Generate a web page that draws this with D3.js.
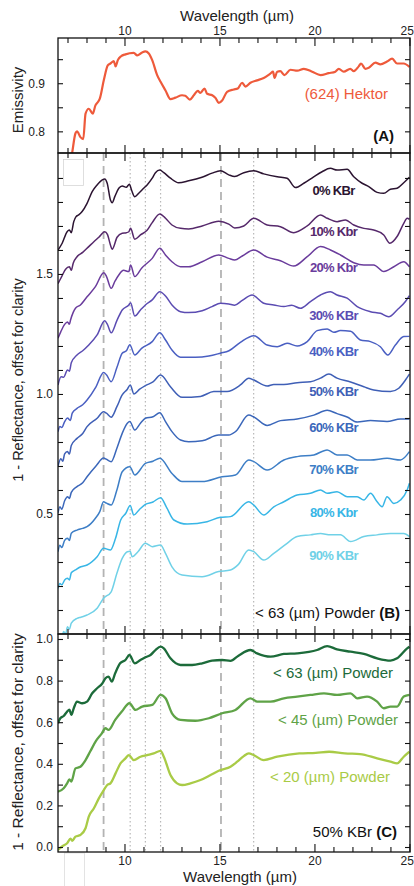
<!DOCTYPE html>
<html>
<head>
<meta charset="utf-8">
<script src="https://cdn.jsdelivr.net/npm/d3@7/dist/d3.min.js"></script>
<style>
  html, body { margin: 0; padding: 0; background: #fff; }
  svg text { font-family: "Liberation Sans", Arial, Helvetica, sans-serif; }
</style>
</head>
<body>
<svg id="chart" width="414" height="886"></svg>
<script>
// ---- data: [wavelength (µm), value] ----
const hektor = [[7.0,0.70],[7.24,0.754],[7.42,0.796],[7.5,0.80],[7.68,0.788],[7.83,0.784],[7.95,0.837],[8.12,0.847],[8.33,0.837],[8.47,0.854],[8.6,0.861],[8.7,0.868],[8.91,0.906],[9.12,0.937],[9.26,0.941],[9.44,0.946],[9.53,0.935],[9.65,0.948],[9.82,0.956],[10.05,0.960],[10.49,0.963],[10.67,0.958],[10.93,0.964],[11.1,0.966],[11.28,0.962],[11.46,0.948],[11.72,0.917],[11.9,0.903],[12.16,0.885],[12.42,0.867],[12.68,0.870],[13.03,0.875],[13.2,0.874],[13.44,0.866],[13.65,0.875],[13.86,0.884],[14.0,0.880],[14.21,0.889],[14.35,0.878],[14.62,0.875],[14.8,0.869],[14.96,0.859],[15.14,0.864],[15.4,0.882],[15.75,0.887],[15.96,0.889],[16.19,0.901],[16.37,0.893],[16.63,0.901],[16.98,0.906],[17.33,0.911],[17.68,0.92],[17.82,0.924],[17.9,0.911],[18.04,0.924],[18.2,0.925],[18.42,0.917],[18.74,0.928],[19.1,0.926],[19.44,0.93],[19.88,0.924],[20.32,0.917],[20.75,0.921],[21.1,0.924],[21.28,0.930],[21.54,0.924],[21.89,0.930],[22.07,0.925],[22.33,0.935],[22.45,0.941],[22.68,0.930],[22.86,0.932],[23.21,0.943],[23.47,0.939],[23.82,0.945],[24.09,0.951],[24.35,0.941],[24.7,0.941],[25.0,0.934]];

const kbr0 = [[6.5,1.60],[6.72,1.628],[6.98,1.676],[7.1,1.683],[7.2,1.672],[7.33,1.718],[7.45,1.739],[7.59,1.746],[7.77,1.76],[8.03,1.794],[8.3,1.843],[8.56,1.871],[8.83,1.892],[8.96,1.896],[9.09,1.878],[9.26,1.808],[9.35,1.797],[9.49,1.822],[9.7,1.857],[9.88,1.867],[10.09,1.861],[10.26,1.874],[10.37,1.85],[10.54,1.822],[10.75,1.836],[11.01,1.857],[11.19,1.871],[11.46,1.899],[11.63,1.922],[11.86,1.933],[12.07,1.922],[12.42,1.899],[12.85,1.88],[13.38,1.888],[14.08,1.903],[14.61,1.92],[15.05,1.93],[15.49,1.913],[15.8,1.906],[16.28,1.922],[16.8,1.93],[17.33,1.917],[18.04,1.905],[18.56,1.899],[19.0,1.86],[19.44,1.878],[19.96,1.905],[20.4,1.926],[20.84,1.94],[21.19,1.933],[21.72,1.936],[22.07,1.905],[22.51,1.878],[22.86,1.864],[23.3,1.84],[23.65,1.836],[24.0,1.853],[24.35,1.857],[24.7,1.88],[25.0,1.903]];
const kbr10 = [[6.5,1.46],[6.7,1.49],[6.9,1.52],[7.1,1.53],[7.2,1.515],[7.3,1.545],[7.5,1.572],[7.8,1.59],[8.12,1.614],[8.4,1.635],[8.65,1.653],[8.96,1.676],[9.1,1.665],[9.26,1.621],[9.35,1.603],[9.61,1.653],[9.88,1.67],[10.1,1.672],[10.23,1.676],[10.32,1.69],[10.54,1.645],[10.84,1.6625],[11.2,1.683],[11.46,1.714],[11.86,1.75],[12.16,1.732],[12.5,1.704],[12.95,1.69],[13.38,1.6875],[14.09,1.70],[14.96,1.72],[15.49,1.708],[15.8,1.692],[16.28,1.70],[16.81,1.732],[17.51,1.704],[18.21,1.697],[18.91,1.672],[19.62,1.70],[20.32,1.746],[20.67,1.732],[21.19,1.718],[21.63,1.725],[22.07,1.704],[22.6,1.69],[23.12,1.683],[23.65,1.6625],[23.97,1.628],[24.35,1.656],[24.7,1.711],[24.88,1.732],[25.0,1.728]];
const kbr20 = [[6.5,1.232],[6.65,1.26],[6.85,1.29],[7.0,1.30],[7.1,1.29],[7.16,1.308],[7.3,1.34],[7.42,1.357],[7.68,1.371],[8.03,1.405],[8.47,1.447],[8.91,1.505],[9.05,1.49],[9.3,1.44],[9.5,1.47],[9.7,1.496],[9.95,1.515],[10.23,1.51],[10.32,1.5375],[10.54,1.489],[10.9,1.524],[11.46,1.565],[11.86,1.607],[12.16,1.579],[12.5,1.551],[12.95,1.53],[13.38,1.53],[14.09,1.551],[14.96,1.579],[15.49,1.565],[15.8,1.558],[16.2,1.575],[16.81,1.6],[17.51,1.57],[18.21,1.555],[18.91,1.533],[19.62,1.572],[20.32,1.614],[20.84,1.60],[21.37,1.579],[22.07,1.547],[22.6,1.5375],[23.12,1.5375],[23.65,1.51],[24.18,1.53],[24.7,1.551],[25.0,1.53]];
const kbr30 = [[6.5,1.0375],[6.66,1.072],[6.8,1.07],[7.0,1.10],[7.1,1.095],[7.2,1.13],[7.5,1.1625],[7.8,1.18],[8.12,1.204],[8.56,1.246],[8.96,1.305],[9.1,1.29],[9.3,1.255],[9.61,1.308],[9.88,1.35],[10.23,1.371],[10.32,1.38],[10.54,1.325],[10.84,1.35],[11.1,1.371],[11.46,1.392],[11.86,1.426],[12.16,1.408],[12.5,1.371],[12.95,1.343],[13.38,1.339],[14.09,1.347],[14.61,1.364],[15.05,1.378],[15.49,1.375],[15.8,1.37],[16.2,1.39],[16.72,1.4125],[17.33,1.378],[17.86,1.371],[18.39,1.364],[18.8,1.37],[19.26,1.357],[19.79,1.385],[20.32,1.4125],[20.84,1.426],[21.19,1.4125],[21.72,1.399],[22.25,1.364],[22.95,1.343],[23.47,1.336],[23.91,1.322],[24.35,1.35],[24.79,1.385],[25.0,1.41]];
const kbr40 = [[6.5,0.843],[6.6,0.865],[6.7,0.86],[6.85,0.885],[7.0,0.90],[7.15,0.89],[7.25,0.92],[7.5,0.94],[7.8,0.955],[8.03,0.975],[8.5,1.03],[8.9,1.09],[9.05,1.08],[9.3,1.051],[9.6,1.11],[9.88,1.17],[10.1,1.18],[10.28,1.205],[10.54,1.1625],[10.9,1.19],[11.46,1.218],[11.86,1.255],[12.16,1.225],[12.5,1.183],[12.95,1.153],[13.73,1.153],[14.44,1.158],[15.05,1.17],[15.5,1.18],[16.1,1.215],[16.81,1.243],[17.51,1.204],[18.04,1.197],[18.56,1.211],[19.09,1.20],[19.62,1.218],[20.14,1.264],[20.67,1.271],[21.02,1.257],[21.37,1.264],[21.9,1.261],[22.42,1.225],[22.95,1.218],[23.47,1.197],[23.86,1.1625],[24.26,1.204],[24.7,1.239],[25.0,1.24]];
const kbr50 = [[6.5,0.70],[6.65,0.73],[6.75,0.72],[6.85,0.75],[7.0,0.76],[7.1,0.75],[7.2,0.785],[7.5,0.815],[7.8,0.835],[8.03,0.864],[8.56,0.899],[8.9,0.926],[9.05,0.92],[9.3,0.903],[9.6,0.947],[9.88,0.996],[10.15,1.02],[10.3,1.0375],[10.5,1.0],[10.8,1.02],[11.1,1.035],[11.5,1.05],[11.9,1.079],[12.42,1.03],[13.03,0.986],[14.0,0.99],[14.7,1.01],[15.4,1.01],[16.1,1.0375],[16.54,1.066],[16.81,1.058],[17.51,1.033],[17.86,1.04],[18.39,1.04],[19.09,1.047],[19.79,1.051],[20.32,1.066],[20.76,1.083],[21.19,1.066],[21.9,1.05],[22.6,1.03],[23.12,1.017],[24.0,1.01],[24.44,1.024],[24.79,1.058],[25.0,1.083]];
const kbr60 = [[6.5,0.505],[6.6,0.53],[6.7,0.52],[6.85,0.555],[7.0,0.572],[7.1,0.565],[7.2,0.59],[7.5,0.614],[7.8,0.63],[8.03,0.655],[8.5,0.70],[8.9,0.733],[9.05,0.728],[9.3,0.718],[9.6,0.774],[9.88,0.836],[10.15,0.878],[10.28,0.885],[10.54,0.85],[10.84,0.878],[11.1,0.899],[11.5,0.905],[11.86,0.922],[12.16,0.885],[12.5,0.843],[12.95,0.808],[13.38,0.801],[14.09,0.805],[14.96,0.829],[15.49,0.829],[15.84,0.843],[16.54,0.912],[16.81,0.904],[17.51,0.869],[18.21,0.889],[19.09,0.896],[19.97,0.912],[20.67,0.932],[21.19,0.918],[21.72,0.904],[22.25,0.883],[22.95,0.889],[23.82,0.885],[24.53,0.896],[25.0,0.896]];
const kbr70 = [[6.5,0.343],[6.6,0.37],[6.7,0.36],[6.85,0.39],[7.0,0.399],[7.1,0.39],[7.2,0.42],[7.5,0.433],[7.8,0.44],[8.03,0.447],[8.47,0.482],[8.7,0.51],[8.9,0.551],[9.05,0.545],[9.3,0.5375],[9.6,0.60],[9.88,0.676],[10.28,0.697],[10.54,0.6625],[11.1,0.711],[11.5,0.72],[11.86,0.732],[12.5,0.669],[13.03,0.635],[14.09,0.635],[15.14,0.655],[15.84,0.6625],[16.54,0.725],[16.81,0.718],[17.51,0.683],[18.39,0.725],[19.09,0.739],[19.97,0.746],[20.67,0.767],[21.19,0.746],[21.72,0.746],[22.25,0.725],[22.95,0.725],[23.82,0.732],[24.53,0.725],[25.0,0.76]];
const kbr80 = [[6.5,0.19],[6.6,0.21],[6.7,0.205],[6.85,0.225],[7.0,0.232],[7.1,0.225],[7.2,0.255],[7.42,0.267],[7.7,0.28],[8.03,0.2875],[8.56,0.322],[8.9,0.357],[9.26,0.35],[9.53,0.399],[9.8,0.475],[10.07,0.503],[10.3,0.535],[10.49,0.496],[10.8,0.52],[11.1,0.54],[11.5,0.55],[11.9,0.568],[12.2,0.53],[12.6,0.475],[13.3,0.458],[14.35,0.468],[15.05,0.486],[15.58,0.489],[16.54,0.551],[16.81,0.537],[17.33,0.496],[17.86,0.53],[18.39,0.551],[19.09,0.579],[19.79,0.586],[20.32,0.60],[20.67,0.586],[21.19,0.593],[21.72,0.572],[22.25,0.572],[22.6,0.558],[22.95,0.586],[23.3,0.551],[23.56,0.53],[23.82,0.572],[24.18,0.544],[24.53,0.558],[24.88,0.60],[25.0,0.628]];
const kbr90 = [[6.6,-0.02],[6.71,-0.01],[6.8,0.01],[6.9,0.0],[7.0,0.03],[7.1,0.02],[7.2,0.045],[7.5,0.065],[7.7,0.07],[8.03,0.079],[8.56,0.107],[8.9,0.149],[9.3,0.176],[9.6,0.253],[9.88,0.315],[10.15,0.343],[10.3,0.345],[10.4,0.322],[10.71,0.343],[11.1,0.378],[11.46,0.364],[11.9,0.371],[12.16,0.336],[12.5,0.28],[13.03,0.246],[14.09,0.239],[14.96,0.26],[15.58,0.267],[16.0,0.29],[16.54,0.35],[16.81,0.343],[17.33,0.308],[17.86,0.336],[18.56,0.378],[19.09,0.406],[19.79,0.413],[20.32,0.419],[20.84,0.413],[21.37,0.413],[21.9,0.385],[22.6,0.406],[23.3,0.413],[24.0,0.419],[24.7,0.419],[25.0,0.406]];

const powder63 = [[6.5,0.595],[6.62,0.619],[6.8,0.63],[6.98,0.651],[7.1,0.66],[7.2,0.635],[7.33,0.667],[7.5,0.699],[7.77,0.691],[8.03,0.699],[8.3,0.739],[8.56,0.763],[8.83,0.786],[9.0,0.811],[9.16,0.819],[9.33,0.795],[9.51,0.835],[9.77,0.883],[10.05,0.899],[10.26,0.923],[10.54,0.883],[10.84,0.899],[11.1,0.912],[11.37,0.923],[11.63,0.947],[11.9,0.963],[12.07,0.955],[12.42,0.907],[12.95,0.875],[13.56,0.875],[14.09,0.883],[14.61,0.896],[15.14,0.899],[15.58,0.895],[16.0,0.92],[16.63,0.947],[16.98,0.931],[17.69,0.915],[18.39,0.928],[19.09,0.931],[20.14,0.947],[20.67,0.966],[21.19,0.95],[21.9,0.939],[22.6,0.928],[23.3,0.907],[24.0,0.896],[24.35,0.907],[24.88,0.955],[25.0,0.963]];
const powder45 = [[6.5,0.266],[6.8,0.282],[6.98,0.306],[7.1,0.325],[7.2,0.315],[7.42,0.378],[7.68,0.386],[7.95,0.418],[8.2,0.46],[8.5,0.51],[8.8,0.545],[9.0,0.571],[9.16,0.563],[9.51,0.611],[9.86,0.651],[10.26,0.691],[10.58,0.659],[10.93,0.675],[11.46,0.683],[11.9,0.731],[12.16,0.715],[12.5,0.643],[12.95,0.611],[13.73,0.607],[14.44,0.619],[15.14,0.643],[15.84,0.659],[16.63,0.715],[16.98,0.699],[17.69,0.699],[18.39,0.715],[19.09,0.723],[19.79,0.731],[20.5,0.739],[21.19,0.731],[21.9,0.739],[22.25,0.715],[22.77,0.723],[23.3,0.699],[23.65,0.667],[24.0,0.675],[24.35,0.675],[24.7,0.723],[25.0,0.731]];
const powder20 = [[6.5,-0.014],[6.75,0.005],[6.98,0.018],[7.16,0.04],[7.25,0.03],[7.42,0.05],[7.68,0.058],[7.95,0.09],[8.12,0.146],[8.39,0.186],[8.65,0.234],[8.91,0.274],[9.09,0.298],[9.26,0.306],[9.53,0.354],[9.79,0.402],[10.05,0.426],[10.23,0.442],[10.49,0.418],[10.84,0.434],[11.19,0.442],[11.54,0.45],[11.9,0.462],[12.07,0.434],[12.42,0.346],[12.77,0.306],[13.03,0.298],[13.47,0.306],[14.0,0.322],[14.53,0.346],[15.05,0.37],[15.58,0.386],[15.93,0.41],[16.28,0.437],[16.54,0.45],[16.8,0.442],[17.33,0.418],[18.04,0.434],[19.2,0.45],[20.07,0.453],[20.77,0.458],[21.6,0.45],[22.4,0.447],[23.3,0.426],[24.0,0.41],[24.35,0.402],[24.7,0.434],[25.0,0.458]];

const kbrSeries = [kbr0, kbr10, kbr20, kbr30, kbr40, kbr50, kbr60, kbr70, kbr80, kbr90];
const kbrLabels = ['0% KBr', '10% Kbr', '20% Kbr', '30% KBr', '40% KBr', '50% KBr', '60% KBr', '70% KBr', '80% Kbr', '90% KBr'];
const kbrLabelY = [1.83, 1.66, 1.508, 1.31, 1.16, 0.99, 0.84, 0.667, 0.488, 0.308];
const kbrColors = ['#2b1431', '#56296b', '#6a3c9c', '#5b4cb2', '#4a5fc2', '#3f5fb6', '#3b67ba', '#3d7ec6', '#38b6e6', '#70d1e7'];

const powderSeries = [powder63, powder45, powder20];
const powderLabels = ['< 63 (µm) Powder', '< 45 (µm) Powder', '< 20 (µm) Powder'];
const powderLabelY = [0.813, 0.588, 0.312];
const powderLabelX = [393, 398, 390];
const powderColors = ['#1c6b3a', '#5fa347', '#a9cb46'];

const dashedLines = [8.9, 15.08];
const dottedLines = [10.3, 11.1, 11.9, 16.8];
const xMajor = [10, 15, 20, 25];
const xMinor = [7, 8, 9, 11, 12, 13, 14, 16, 17, 18, 19, 21, 22, 23, 24];

// ---- layout ----
const svg = d3.select('#chart');
const L = 58, R = 410;
const x = d3.scaleLinear().domain([6.5, 25.03]).range([L, R]);

const panels = {
    a: { top: 38, bottom: 153, y: d3.scaleLinear().domain([0.755, 0.994]).range([153, 38]),
         major: [0.8, 0.9], minor: [0.85, 0.95], pad: 13 },
    b: { top: 153, bottom: 634, y: d3.scaleLinear().domain([0, 2.004]).range([634, 153]),
         major: [0.5, 1.0, 1.5], minor: [0.1, 0.2, 0.3, 0.4, 0.6, 0.7, 0.8, 0.9, 1.1, 1.2, 1.3, 1.4, 1.6, 1.7, 1.8, 1.9], pad: 5 },
    c: { top: 634, bottom: 852, y: d3.scaleLinear().domain([-0.024, 1.024]).range([852, 634]),
         major: [0, 0.2, 0.4, 0.6, 0.8, 1.0], minor: [0.1, 0.3, 0.5, 0.7, 0.9], pad: 5 }
};

const defs = svg.append('defs');
Object.entries(panels).forEach(([k, p]) => {
    defs.append('clipPath').attr('id', 'clip-' + k)
        .append('rect').attr('x', L).attr('y', p.top).attr('width', R - L).attr('height', p.bottom - p.top);
});

// reference lines through panels B and C
const refG = svg.append('g');
refG.selectAll('.dash').data(dashedLines).enter().append('line')
    .attr('x1', d => x(d)).attr('x2', d => x(d))
    .attr('y1', 153).attr('y2', 852)
    .attr('stroke', '#b3b3b3').attr('stroke-width', 1.8).attr('stroke-dasharray', '8,5');
refG.selectAll('.dot').data(dottedLines).enter().append('line')
    .attr('x1', d => x(d)).attr('x2', d => x(d))
    .attr('y1', 153).attr('y2', 852)
    .attr('stroke', '#b8b8b8').attr('stroke-width', 1.2).attr('stroke-dasharray', '1.5,2.5');

// small grey box artefacts
svg.append('rect').attr('x', 63.5).attr('y', 159.5).attr('width', 20).attr('height', 26)
    .attr('fill', '#fff').attr('stroke', '#d6d6d6').attr('stroke-width', 0.8);
svg.append('rect').attr('x', 64.5).attr('y', 853).attr('width', 20).attr('height', 40)
    .attr('fill', '#fff').attr('stroke', '#dcdcdc').attr('stroke-width', 0.8);

// lines
function drawSeries(key, data, color, width) {
    const p = panels[key];
    const line = d3.line().x(d => x(d[0])).y(d => p.y(d[1])).curve(d3.curveMonotoneX);
    svg.append('path')
        .attr('clip-path', `url(#clip-${key})`)
        .attr('d', line(data))
        .attr('fill', 'none')
        .attr('stroke', color)
        .attr('stroke-width', width)
        .attr('stroke-linejoin', 'round');
}

drawSeries('a', hektor, '#ee5a3b', 2.2);
kbrSeries.forEach((s, i) => drawSeries('b', s, kbrColors[i], 1.5));
powderSeries.forEach((s, i) => drawSeries('c', s, powderColors[i], 2.3));

// axes with inward ticks
Object.entries(panels).forEach(([k, p]) => {
    const g = svg.append('g').attr('class', 'axes');
    g.append('g').attr('transform', `translate(${L},0)`)
        .call(d3.axisLeft(p.y).tickValues(p.major).tickSize(-5).tickPadding(p.pad).tickFormat(d3.format('.1f')));
    g.append('g').attr('transform', `translate(${L},0)`)
        .call(d3.axisLeft(p.y).tickValues(p.minor).tickSize(-5).tickFormat(''));
    g.append('g').attr('transform', `translate(${R},0)`)
        .call(d3.axisRight(p.y).tickValues(p.major.concat(p.minor)).tickSize(-5).tickFormat(''));
    [[p.top, d3.axisTop], [p.bottom, d3.axisBottom]].forEach(([yy, ax]) => {
        g.append('g').attr('transform', `translate(0,${yy})`)
            .call(ax(x).tickValues(xMajor).tickSize(-8).tickFormat(''));
        g.append('g').attr('transform', `translate(0,${yy})`)
            .call(ax(x).tickValues(xMinor).tickSize(-5).tickFormat(''));
    });
});

// tick labels on the outer x axes
svg.append('g').attr('class', 'xlab').attr('transform', 'translate(0,38)')
    .call(d3.axisTop(x).tickValues(xMajor).tickSize(0).tickPadding(3).tickFormat(d3.format('d')));
svg.append('g').attr('class', 'xlab').attr('transform', 'translate(0,852)')
    .call(d3.axisBottom(x).tickValues(xMajor).tickSize(0).tickPadding(4).tickFormat(d3.format('d')));

svg.selectAll('.domain').remove();
svg.selectAll('.tick line').attr('stroke', '#111').attr('stroke-width', 1.1);
svg.selectAll('.tick text').attr('font-size', 12).attr('fill', '#222')
    .style('font-family', '"Liberation Sans", Arial, sans-serif');
// keep the "25" label inside the picture
svg.selectAll('.xlab .tick text').filter(d => d === 25).attr('text-anchor', 'end').attr('dx', 4);

// frames
Object.values(panels).forEach(p => {
    svg.append('rect').attr('x', L).attr('y', p.top).attr('width', R - L).attr('height', p.bottom - p.top)
        .attr('fill', 'none').attr('stroke', '#111').attr('stroke-width', 1.3);
});

// axis titles
const title = (txt, xx, yy, size, rot) => svg.append('text')
    .attr('transform', `translate(${xx},${yy})` + (rot ? ' rotate(-90)' : ''))
    .attr('text-anchor', 'middle').attr('font-size', size).attr('fill', '#222').text(txt);
title('Wavelength (µm)', 237, 21, 15, false);
title('Wavelength (µm)', 240, 882, 15, false);
title('Emissivity', 23, 100, 15, true);
title('1 - Reflectance, offset for clarity', 23, 380, 14.5, true);
title('1 - Reflectance, offset for clarity', 23, 742, 15.5, true);

// panel annotations
svg.append('text').attr('x', 388).attr('y', 99).attr('text-anchor', 'end')
    .attr('font-size', 15).attr('fill', '#ee5a3b').text('(624) Hektor');
svg.append('text').attr('x', 394).attr('y', 141).attr('text-anchor', 'end')
    .attr('font-size', 15).attr('font-weight', 'bold').attr('fill', '#111').text('(A)');

const tb = svg.append('text').attr('x', 400).attr('y', 618).attr('text-anchor', 'end')
    .attr('font-size', 15).attr('fill', '#111');
tb.append('tspan').text('< 63 (µm) Powder ');
tb.append('tspan').attr('font-weight', 'bold').text('(B)');

const tc = svg.append('text').attr('x', 397).attr('y', 837).attr('text-anchor', 'end')
    .attr('font-size', 15).attr('fill', '#111');
tc.append('tspan').text('50% KBr ');
tc.append('tspan').attr('font-weight', 'bold').text('(C)');

svg.selectAll('.kbr-label').data(kbrLabels).enter().append('text')
    .attr('class', 'kbr-label')
    .attr('x', 333.5).attr('y', (d, i) => panels.b.y(kbrLabelY[i]))
    .attr('text-anchor', 'middle').attr('font-size', 13).attr('font-weight', 'bold')
    .attr('letter-spacing', '-0.7px')
    .attr('fill', (d, i) => kbrColors[i]).text(d => d);

svg.selectAll('.powder-label').data(powderLabels).enter().append('text')
    .attr('class', 'powder-label')
    .attr('x', (d, i) => powderLabelX[i]).attr('y', (d, i) => panels.c.y(powderLabelY[i]))
    .attr('text-anchor', 'end').attr('font-size', 15)
    .attr('fill', (d, i) => powderColors[i]).text(d => d);
</script>
</body>
</html>
